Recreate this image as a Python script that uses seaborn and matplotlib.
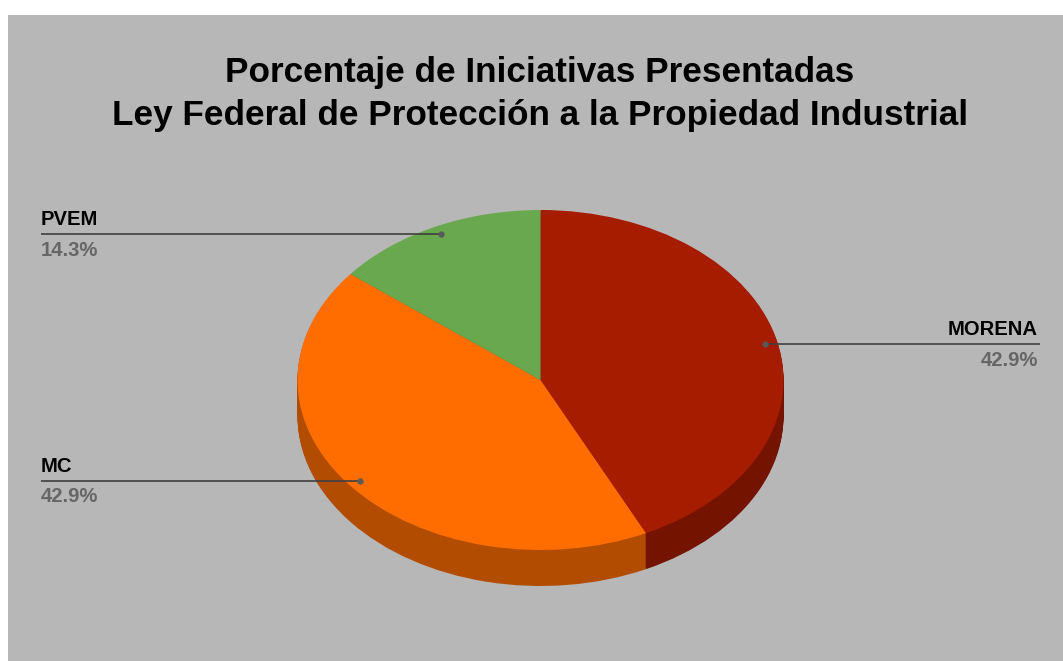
import matplotlib
matplotlib.use("Agg")
import matplotlib.pyplot as plt
from matplotlib.patches import Rectangle
import seaborn as sns

categories = ["MORENA", "MC", "PVEM"]
values = [42.9, 42.9, 14.3]
value_labels = ["42.9%", "42.9%", "14.3%"]
title_lines = ["Porcentaje de Iniciativas Presentadas",
               "Ley Federal de Protección a la Propiedad Industrial"]
top_colors = ["#A61C00", "#FF6D01", "#6AA84F"]
side_colors = ["#741300", "#B24C00", "#4A7537"]

sns.set_theme(style="white")
plt.rcParams["font.family"] = ["Liberation Sans", "DejaVu Sans"]

W, H = 1063, 661
fig = plt.figure(figsize=(W / 100, H / 100), dpi=100, facecolor="white")

# background panel in pixel coordinates
bg = fig.add_axes([0, 0, 1, 1], zorder=0)
bg.set_xlim(0, W); bg.set_ylim(H, 0); bg.axis("off")
bg.add_patch(Rectangle((8, 15), W - 8, H - 15, facecolor="#B7B7B7", edgecolor="none"))

# elliptical pie
cx, cy, rx, ry, depth = 540.5, 380, 243, 170, 36
ax = fig.add_axes([(cx - rx) / W, 1 - (cy + ry + depth) / H,
                   2 * rx / W, (2 * ry + depth) / H], zorder=1)
palette_side = sns.color_palette(side_colors)
palette_top = sns.color_palette(top_colors)
step = 1.0 / ry
for d in range(depth, 0, -1):
    ax.pie(values, colors=palette_side, startangle=90, counterclock=False,
           center=(0, -d * step), radius=1, wedgeprops=dict(linewidth=0))
ax.pie(values, colors=palette_top, startangle=90, counterclock=False,
       center=(0, 0), radius=1, wedgeprops=dict(linewidth=0))
ax.set_aspect("auto")
ax.set_xlim(-1, 1)
ax.set_ylim(-1 - depth * step, 1)

# overlay: title, leaders, labels
ov = fig.add_axes([0, 0, 1, 1], zorder=2)
ov.set_xlim(0, W); ov.set_ylim(H, 0); ov.axis("off"); ov.patch.set_alpha(0)

for line, y in zip(title_lines, [72.5, 115]):
    ov.text(540, y, line, ha="center", va="center", fontsize=25.3,
            fontweight="bold", color="#000000")

leaders = {"MORENA": (765, 1040, 344, "right", 1038),
           "MC": (360, 41, 481, "left", 41),
           "PVEM": (441, 41, 234, "left", 41)}
for name, label in zip(categories, value_labels):
    x0, x1, y, ha, tx = leaders[name]
    ov.plot([x0, x1], [y, y], color="#3F3F3F", lw=1.2, solid_capstyle="butt")
    ov.plot([x0], [y], "o", ms=4.5, color="#595959", mew=0)
    ov.text(tx, y - 14.5, name, ha=ha, va="center", fontsize=14.6, fontweight="bold", color="#000000")
    ov.text(tx, y + 16, label, ha=ha, va="center", fontsize=14.6, fontweight="bold", color="#666666")

fig.savefig("out.png", dpi=100, facecolor="white")
